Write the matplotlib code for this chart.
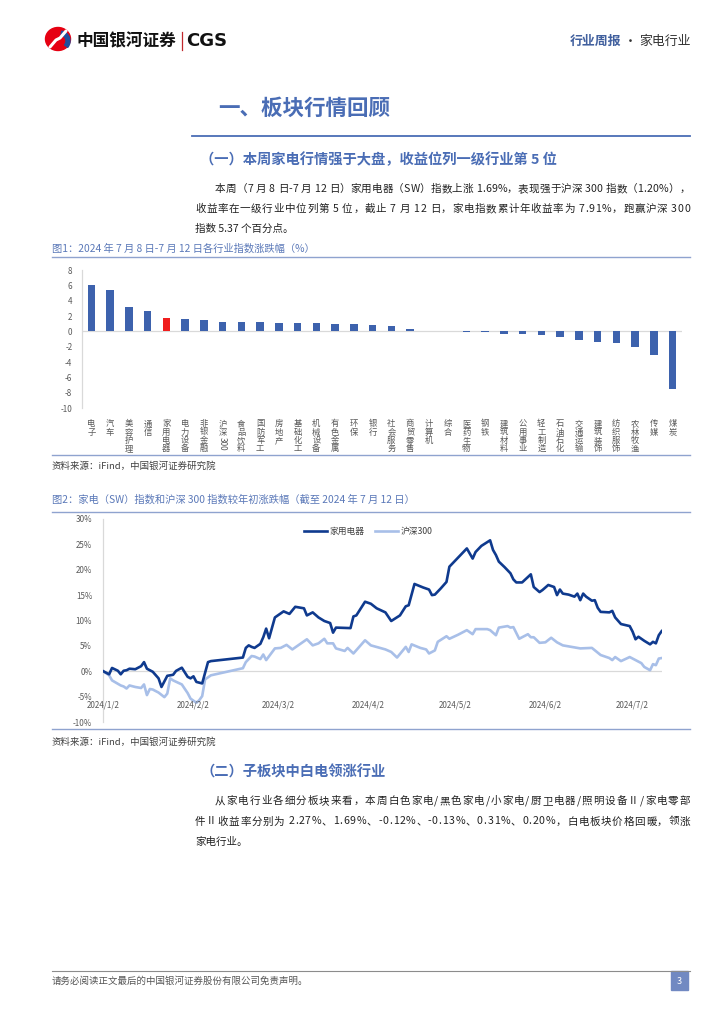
import matplotlib.pyplot as plt
from matplotlib.patches import Rectangle, Wedge, Ellipse
import pandas as pd

plt.rcParams['font.family'] = ['Noto Sans CJK SC', 'DejaVu Sans']
plt.rcParams['axes.unicode_minus'] = False

# ---- 图1 data: industry weekly change (%) ----
industries = ['电子', '汽车', '美容护理', '通信', '家用电器', '电力设备', '非银金融', '沪深300',
              '食品饮料', '国防军工', '房地产', '基础化工', '机械设备', '有色金属', '环保', '银行',
              '社会服务', '商贸零售', '计算机', '综合', '医药生物', '钢铁', '建筑材料', '公用事业',
              '轻工制造', '石油石化', '交通运输', '建筑装饰', '纺织服饰', '农林牧渔', '传媒', '煤炭']
changes = [6.11, 5.42, 3.17, 2.65, 1.69, 1.60, 1.47, 1.20,
           1.20, 1.17, 1.08, 1.04, 1.04, 1.00, 0.91, 0.82,
           0.65, 0.26, 0.03, 0.02, -0.05, -0.08, -0.35, -0.37,
           -0.43, -0.78, -1.08, -1.39, -1.52, -2.04, -3.00, -7.55]
highlight = '家用电器'
bar_ticks = [-10, -8, -6, -4, -2, 0, 2, 4, 6, 8]

# ---- 图2 data: YTD change (%) ----
hd_dates = ['2024-01-02', '2024-01-04', '2024-01-05', '2024-01-07', '2024-01-08', '2024-01-09', '2024-01-10',
            '2024-01-11', '2024-01-13', '2024-01-15', '2024-01-16', '2024-01-17', '2024-01-19', '2024-01-21',
            '2024-01-22', '2024-01-24', '2024-01-26', '2024-01-27', '2024-01-29', '2024-01-31',
            '2024-02-01', '2024-02-02', '2024-02-03', '2024-02-05', '2024-02-07', '2024-02-08', '2024-02-19',
            '2024-02-20', '2024-02-21', '2024-02-22', '2024-02-23', '2024-02-25', '2024-02-26', '2024-02-27',
            '2024-02-28',
            '2024-03-01', '2024-03-02', '2024-03-04', '2024-03-06', '2024-03-08', '2024-03-11', '2024-03-12',
            '2024-03-14', '2024-03-16', '2024-03-18', '2024-03-20', '2024-03-21', '2024-03-22', '2024-03-27',
            '2024-03-28', '2024-03-29',
            '2024-04-01', '2024-04-03', '2024-04-05', '2024-04-08', '2024-04-10', '2024-04-13', '2024-04-15',
            '2024-04-16', '2024-04-18', '2024-04-21', '2024-04-23', '2024-04-24', '2024-04-25', '2024-04-27',
            '2024-04-29', '2024-04-30',
            '2024-05-03', '2024-05-06', '2024-05-08', '2024-05-09', '2024-05-11', '2024-05-14', '2024-05-15',
            '2024-05-16', '2024-05-17', '2024-05-19', '2024-05-21', '2024-05-22', '2024-05-23', '2024-05-25',
            '2024-05-28', '2024-05-29', '2024-05-31',
            '2024-06-01', '2024-06-03', '2024-06-05', '2024-06-06', '2024-06-07', '2024-06-08', '2024-06-10',
            '2024-06-12', '2024-06-13', '2024-06-14', '2024-06-15', '2024-06-16', '2024-06-18', '2024-06-19',
            '2024-06-20', '2024-06-21', '2024-06-24', '2024-06-25', '2024-06-26', '2024-06-28',
            '2024-07-01', '2024-07-02', '2024-07-03', '2024-07-04', '2024-07-06', '2024-07-08', '2024-07-09',
            '2024-07-10', '2024-07-11', '2024-07-12']
hd_values = [0.0, -0.6, 0.65, 0.1, -0.6, 0.1, 0.2,
             0.5, 0.4, 1.0, 1.8, 0.5, -0.1, -1.4,
             -3.1, -0.9, -0.7, 0.06, 0.7, -1.1,
             -1.4, -1.0, -2.1, -2.4, 1.8, 2.0, 2.7,
             4.6, 5.1, 4.8, 4.6, 5.4, 6.7, 8.4,
             6.5,
             10.6, 11.0, 11.8, 11.3, 12.7, 12.4, 11.0,
             11.6, 10.6, 9.9, 9.5, 7.6, 8.6, 8.5,
             10.8, 11.0,
             13.7, 13.3, 12.4, 11.6, 9.9, 11.0, 12.8,
             13.0, 17.2, 16.5, 16.1, 15.0, 15.1, 16.3,
             17.6, 20.6,
             22.4, 24.2, 22.2, 23.5, 24.7, 25.8, 23.9,
             22.9, 21.6, 20.5, 19.3, 18.1, 17.5, 17.5,
             19.1, 16.6, 15.6,
             16.0, 17.0, 16.6, 15.0, 16.1, 15.3, 15.1,
             14.7, 15.3, 14.0, 15.3, 14.7, 13.9, 14.0,
             12.5, 11.7, 11.6, 11.9, 10.6, 9.3,
             8.9, 7.8, 6.3, 6.8, 6.0, 5.3, 5.8,
             5.5, 7.1, 7.91]

hs_dates = ['2024-01-02', '2024-01-04', '2024-01-05', '2024-01-08', '2024-01-09', '2024-01-10', '2024-01-11',
            '2024-01-13', '2024-01-15', '2024-01-16', '2024-01-17', '2024-01-18', '2024-01-19', '2024-01-21',
            '2024-01-23', '2024-01-24', '2024-01-25', '2024-01-26', '2024-01-29', '2024-01-31',
            '2024-02-01', '2024-02-03', '2024-02-04', '2024-02-05', '2024-02-06', '2024-02-08', '2024-02-19',
            '2024-02-20', '2024-02-22', '2024-02-23', '2024-02-25', '2024-02-26', '2024-02-27',
            '2024-03-01', '2024-03-03', '2024-03-05', '2024-03-07', '2024-03-10', '2024-03-12', '2024-03-14',
            '2024-03-16', '2024-03-18', '2024-03-19', '2024-03-21', '2024-03-22', '2024-03-25', '2024-03-26',
            '2024-03-28', '2024-03-30',
            '2024-04-01', '2024-04-03', '2024-04-08', '2024-04-10', '2024-04-12', '2024-04-15', '2024-04-16',
            '2024-04-17', '2024-04-20', '2024-04-22', '2024-04-23', '2024-04-25', '2024-04-26', '2024-04-29',
            '2024-04-30',
            '2024-05-03', '2024-05-06', '2024-05-08', '2024-05-09', '2024-05-13', '2024-05-14', '2024-05-16',
            '2024-05-17', '2024-05-20', '2024-05-21', '2024-05-22', '2024-05-24', '2024-05-27', '2024-05-28',
            '2024-05-29', '2024-05-31',
            '2024-06-02', '2024-06-04', '2024-06-06', '2024-06-08', '2024-06-12', '2024-06-14', '2024-06-18',
            '2024-06-21', '2024-06-24', '2024-06-25', '2024-06-26', '2024-06-28',
            '2024-07-01', '2024-07-05', '2024-07-06', '2024-07-08', '2024-07-09', '2024-07-10', '2024-07-11',
            '2024-07-12']
hs_values = [0.0, -0.8, -1.8, -2.8, -3.0, -3.4, -2.8,
             -3.1, -3.3, -2.6, -4.7, -3.5, -3.6, -4.2,
             -5.1, -4.4, -1.4, -1.8, -2.6, -4.3,
             -5.4, -6.2, -5.7, -4.9, -1.6, -0.8, 0.6,
             1.8, 3.0, 2.9, 2.4, 3.3, 2.2,
             4.5, 4.6, 5.2, 4.3, 5.5, 6.3, 5.1,
             5.5, 6.4, 5.5, 5.5, 4.5, 4.0, 4.6,
             3.5, 4.8,
             6.1, 5.1, 4.3, 3.8, 2.7, 4.8, 3.8,
             5.3, 4.6, 4.3, 3.5, 4.1, 5.8, 6.9,
             6.4,
             7.2, 8.1, 7.3, 8.3, 8.3, 8.1, 7.1,
             8.6, 8.9, 8.6, 8.7, 6.4, 7.3, 6.7,
             6.7, 5.6,
             5.7, 6.6, 5.7, 5.1, 4.7, 4.5, 4.6,
             3.2, 2.6, 2.2, 2.8, 2.0,
             2.8, 1.6, 0.85, 0.2, 1.4, 1.2, 2.5,
             2.6]
line_yticks = [-10, -5, 0, 5, 10, 15, 20, 25, 30]
date_ticks = ['2024-01-02', '2024-02-02', '2024-03-02', '2024-04-02', '2024-05-02', '2024-06-02', '2024-07-02']
date_labels = ['2024/1/2', '2024/2/2', '2024/3/2', '2024/4/2', '2024/5/2', '2024/6/2', '2024/7/2']

para1 = ['本周（7 月 8 日-7 月 12 日）家用电器（SW）指数上涨 1.69%，表现强于沪深 300 指数（1.20%），',
         '收益率在一级行业中位列第 5 位，截止 7 月 12 日，家电指数累计年收益率为 7.91%，跑赢沪深 300',
         '指数 5.37 个百分点。']
para2 = ['从家电行业各细分板块来看，本周白色家电/黑色家电/小家电/厨卫电器/照明设备Ⅱ/家电零部',
         '件Ⅱ收益率分别为 2.27%、1.69%、-0.12%、-0.13%、0.31%、0.20%，白电板块价格回暖，领涨',
         '家电行业。']

W, H = 724, 1024
BLUE = '#4a6db5'
TITLE_BLUE = '#5a78b8'
RULE = '#8fa3cf'
TICK = '#595959'
BODY = 7.6

fig = plt.figure(figsize=(W / 100, H / 100), dpi=100)
bg = fig.add_axes([0, 0, 1, 1])
bg.set_xlim(0, W)
bg.set_ylim(H, 0)
bg.axis('off')
renderer = fig.canvas.get_renderer()


def rect(l, t, r, b):
    return [l / W, 1 - b / H, (r - l) / W, (b - t) / H]


def text_w(s, size):
    t = bg.text(0, 0, s, fontsize=size)
    w = t.get_window_extent(renderer).width
    t.remove()
    return w


def justified(x0, x1, y, s, size, color):
    # spread the characters so the line fills x0..x1, like the justified report text
    base = text_w('xx', size)
    widths = [text_w('x' + c + 'x', size) - base for c in s]
    gap = (x1 - x0 - sum(widths)) / (len(s) - 1)
    x = x0
    for c, w in zip(s, widths):
        if c != ' ':
            bg.text(x, y, c, fontsize=size, va='center', color=color)
        x += w + gap


def paragraph(lines, y0, step):
    for i, line in enumerate(lines):
        x0 = 215 if i == 0 else 195
        if i < len(lines) - 1:
            justified(x0, 690, y0 + step * i, line, BODY, '#222')
        else:
            bg.text(x0, y0 + step * i, line, fontsize=BODY, va='center', color='#222')


# ---- page header ----
bg.add_patch(Ellipse((58, 39), 25, 23, color='#e60012'))
bg.add_patch(Wedge((60, 41), 10, 280, 40, width=4, color='#1f4e9c'))
bg.plot([50, 56, 60, 66], [47, 40, 38, 31], color='white', lw=2.2, solid_capstyle='round')
bg.text(76, 41, '中国银河证券', fontsize=12, fontweight='bold', va='center', color='#111')
bg.plot([182, 182], [32, 50], color='#c0282d', lw=0.9)
bg.text(186, 41, 'CGS', fontsize=13, fontweight='bold', va='center', color='#111', family='DejaVu Sans')
bg.text(570, 41, '行业周报', fontsize=9.3, fontweight='bold', va='center', color='#41609e')
bg.text(630, 41, '·', fontsize=9.3, va='center', ha='center', color='#333')
bg.text(639, 41, '家电行业', fontsize=9.3, va='center', color='#333')

bg.text(218, 108, '一、板块行情回顾', fontsize=15.5, fontweight='bold', va='center', color=BLUE)
bg.plot([192, 690], [136, 136], color=BLUE, lw=1.3)
bg.text(200, 160, '（一）本周家电行情强于大盘，收益位列一级行业第 5 位', fontsize=10.3,
        fontweight='bold', va='center', color=BLUE)
paragraph(para1, 189, 20)

# ---- 图1 ----
bg.text(52, 249, '图1：2024 年 7 月 8 日-7 月 12 日各行业指数涨跌幅（%）', fontsize=7.4, va='center', color=TITLE_BLUE)
bg.plot([52, 690], [257, 257], color=RULE, lw=1)
bg.plot([52, 690], [455, 455], color=RULE, lw=1)
bg.text(52, 466, '资料来源：iFind，中国银河证券研究院', fontsize=6.8, va='center', color='#404040', style='italic')

ax1 = fig.add_axes(rect(82, 270, 682, 408.3))
xs = list(range(len(industries)))
colors = ['#f01e1e' if n == highlight else '#3d62ad' for n in industries]
ax1.bar(xs, changes, width=0.41, color=colors, zorder=3)
ax1.axhline(0, color='#d9d9d9', lw=0.9, zorder=2)
ax1.set_xlim(-0.5, len(industries) - 0.5)
ax1.set_ylim(-10, 8)
ax1.set_yticks(bar_ticks)
ax1.set_yticklabels([str(t) for t in bar_ticks])
ax1.set_xticks(xs)
# CJK characters stack top to bottom; a run of digits is turned on its side below them
stacked = []
for i, n in enumerate(industries):
    cjk = ''.join(c for c in n if not c.isdigit())
    digits = ''.join(c for c in n if c.isdigit())
    stacked.append('\n'.join(cjk))
    if digits:
        ax1.text(i, -0.205, digits, transform=ax1.get_xaxis_transform(), rotation=-90,
                 ha='center', va='top', fontsize=6.0, color=TICK)
ax1.set_xticklabels(stacked, linespacing=0.9)
ax1.tick_params(axis='y', length=0, pad=7, labelsize=5.8, labelcolor=TICK)
ax1.tick_params(axis='x', length=0, pad=8, labelsize=6.0, labelcolor=TICK)
for lab in ax1.get_xticklabels():
    lab.set_va('top')
for s in ['top', 'right', 'bottom']:
    ax1.spines[s].set_visible(False)
ax1.spines['left'].set_color('#d9d9d9')
ax1.spines['left'].set_linewidth(0.9)
ax1.set_facecolor('none')

# ---- 图2 ----
bg.text(52, 500, '图2：家电（SW）指数和沪深 300 指数较年初涨跌幅（截至 2024 年 7 月 12 日）', fontsize=7.4,
        va='center', color=TITLE_BLUE)
bg.plot([52, 690], [512, 512], color=RULE, lw=1)
bg.plot([52, 690], [729, 729], color=RULE, lw=1)
bg.text(52, 742, '资料来源：iFind，中国银河证券研究院', fontsize=6.8, va='center', color='#404040', style='italic')

ax2 = fig.add_axes(rect(103.3, 519, 661.7, 722))
hd_x = pd.to_datetime(hd_dates)
hs_x = pd.to_datetime(hs_dates)
ax2.plot(hs_x, hs_values, color='#a8bfe8', lw=1.9, label='沪深300', zorder=3)
ax2.plot(hd_x, hd_values, color='#0f3a8e', lw=1.9, label='家用电器', zorder=4)
ax2.axhline(0, color='#d9d9d9', lw=0.9, zorder=2)
ax2.set_xlim(pd.Timestamp('2024-01-02'), pd.Timestamp('2024-07-12'))
ax2.set_ylim(-10, 30)
ax2.set_yticks(line_yticks)
ax2.set_yticklabels([f'{t}%' for t in line_yticks])
ax2.set_xticks([])
ax2.tick_params(axis='y', length=0, pad=8, labelsize=5.8, labelcolor=TICK)
for d, lab in zip(date_ticks, date_labels):
    ax2.text(pd.Timestamp(d), 0.085, lab, transform=ax2.get_xaxis_transform(), ha='center', va='center',
             fontsize=5.8, color=TICK)
for s in ['top', 'right', 'bottom']:
    ax2.spines[s].set_visible(False)
ax2.spines['left'].set_color('#d9d9d9')
ax2.spines['left'].set_linewidth(0.9)
ax2.set_facecolor('none')
handles, labels = ax2.get_legend_handles_labels()
ax2.legend(handles[::-1], labels[::-1], loc='upper center', bbox_to_anchor=(0.475, 1.0), ncol=2, frameon=False,
           fontsize=6.3, handlelength=2.6, columnspacing=1.2, handletextpad=0.3, labelcolor='#404040')

# ---- 二 ----
bg.text(200, 772, '（二）子板块中白电领涨行业', fontsize=10.3, fontweight='bold', va='center', color=BLUE)
paragraph(para2, 801, 20.5)

# ---- footer ----
bg.plot([52, 690], [971, 971], color='#8c8c8c', lw=0.8)
bg.text(52, 981, '请务必阅读正文最后的中国银河证券股份有限公司免责声明。', fontsize=6.8, va='center', color='#555')
bg.add_patch(Rectangle((671, 971), 17, 19, color='#7189c2'))
bg.text(679.5, 981, '3', fontsize=6.5, va='center', ha='center', color='white')

fig.savefig('out.png', dpi=100)
